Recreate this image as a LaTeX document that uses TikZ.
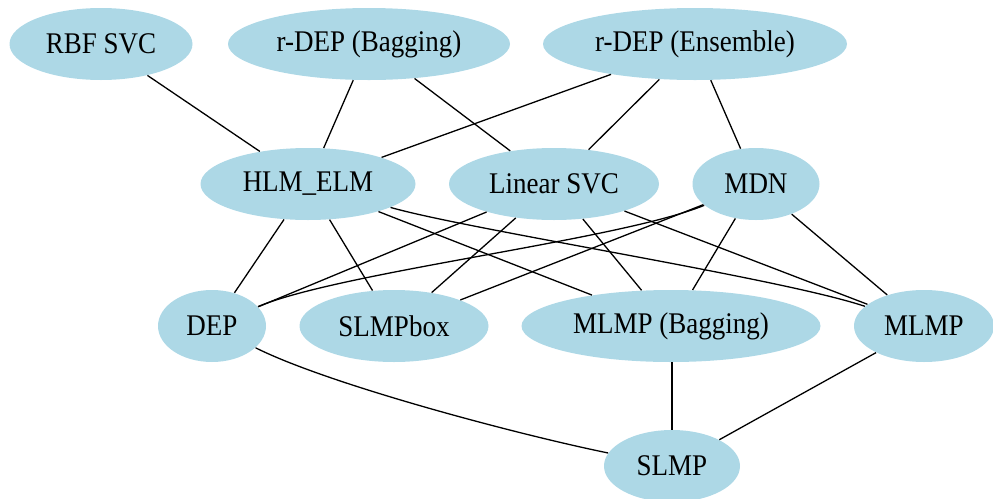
\documentclass[tikz,border=0pt]{standalone}
\usepackage{fontspec}
\setmainfont[FakeStretch=0.9]{Liberation Serif}
\usepackage{tikz}
\usetikzlibrary{shapes}
\definecolor{lightblue}{HTML}{ADD8E6}

\begin{document}
\begin{tikzpicture}[x=0.5pt, y=-0.5pt,
    model/.style={ellipse, fill=lightblue, inner sep=0pt, minimum height=36pt,
        font=\fontsize{15}{18}\selectfont},
    link/.style={line width=0.65pt}]

    \useasboundingbox (0,0) rectangle (993,499);

    \draw(101,44) node[model, minimum width=91.5pt] (rbf) {RBF SVC};
    \draw(369,44) node[model, minimum width=141pt] (rdepbag) {r-DEP (Bagging)};
    \draw(695,44) node[model, minimum width=152pt] (rdepens) {r-DEP (Ensemble)};

    \draw(308,184) node[model, minimum width=107.5pt] (hlm) {HLM\_ELM};
    \draw(554,184) node[model, minimum width=105pt] (linsvc) {Linear SVC};
    \draw(756,184) node[model, minimum width=63.5pt] (mdn) {MDN};

    \draw(212,326) node[model, minimum width=54pt] (dep) {DEP};
    \draw(394,326) node[model, minimum width=94.5pt] (slmpbox) {SLMPbox};
    \draw(671,326) node[model, minimum width=149.5pt] (mlmpbag) {MLMP (Bagging)};
    \draw(924,326) node[model, minimum width=70pt] (mlmp) {MLMP};

    \draw(672,466) node[model, minimum width=68pt] (slmp) {SLMP};

    \draw[link] (rbf) to (hlm);
    \draw[link] (rdepbag) to (hlm);
    \draw[link] (rdepbag) to (linsvc);
    \draw[link] (rdepens) to (hlm);
    \draw[link] (rdepens) to (linsvc);
    \draw[link] (rdepens) to (mdn);

    \draw[link] (hlm) to (dep);
    \draw[link] (hlm) to (slmpbox);
    \draw[link] (hlm) to (mlmpbag);
    \draw[link] (hlm) .. controls (470,230) and (780,278) .. (mlmp);
    \draw[link] (linsvc) to (dep);
    \draw[link] (linsvc) to (slmpbox);
    \draw[link] (linsvc) to (mlmpbag);
    \draw[link] (linsvc) to (mlmp);
    \draw[link] (mdn) .. controls (620,240) and (340,272) .. (dep);
    \draw[link] (mdn) to (slmpbox);
    \draw[link] (mdn) to (mlmpbag);
    \draw[link] (mdn) to (mlmp);

    \draw[link] (dep) .. controls (330,385) and (520,435) .. (slmp);
    \draw[link] (mlmpbag.south -| slmp) to (slmp);
    \draw[link] (mlmp) to (slmp);

\end{tikzpicture}
\end{document}
